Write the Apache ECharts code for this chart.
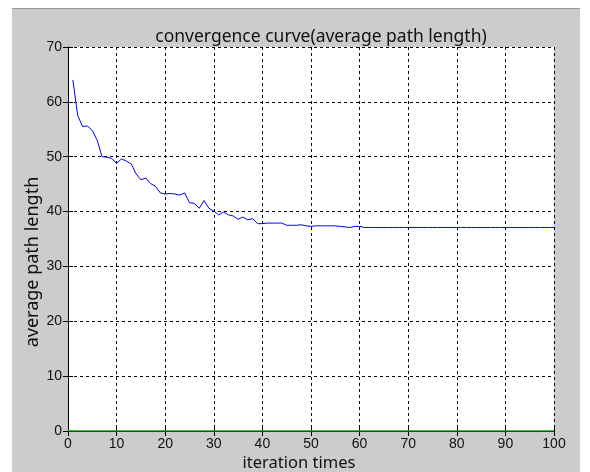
<!DOCTYPE html>
<html>
<head>
<meta charset="utf-8">
<script src="https://cdn.jsdelivr.net/npm/echarts@6/dist/echarts.min.js"></script>
<style>
  html, body { margin: 0; padding: 0; background: #fff; }
  #main { width: 590px; height: 472px; }
</style>
</head>
<body>
<div id="main"></div>
<script>
// average path length per iteration (1..100)
var iterations = [];
for (var k = 1; k <= 100; k++) iterations.push(k);
var avgLength = [
  64.0, 57.5, 55.5, 55.6, 54.8, 53.0, 50.0, 49.9, 49.7, 48.8,
  49.6, 49.2, 48.7, 46.9, 45.8, 46.1, 45.1, 44.6, 43.4, 43.2,
  43.3, 43.2, 43.0, 43.4, 41.6, 41.5, 40.6, 42.0, 40.6, 40.1,
  39.4, 39.9, 39.4, 39.2, 38.6, 39.0, 38.5, 38.7, 37.8, 37.8,
  37.9, 37.9, 37.9, 37.9, 37.5, 37.5, 37.5, 37.6, 37.4, 37.3,
  37.4, 37.4, 37.4, 37.4, 37.4, 37.3, 37.2, 37.1, 37.3, 37.3,
  37.1, 37.1, 37.1, 37.1, 37.1, 37.1, 37.1, 37.1, 37.1, 37.1,
  37.1, 37.1, 37.1, 37.1, 37.1, 37.1, 37.1, 37.1, 37.1, 37.1,
  37.1, 37.1, 37.1, 37.1, 37.1, 37.1, 37.1, 37.1, 37.1, 37.1,
  37.1, 37.1, 37.1, 37.1, 37.1, 37.1, 37.1, 37.1, 37.1, 37.1
];
var baseX = [0, 100];
var baseY = [0, 0];

var lineData = iterations.map(function (it, i) { return [it, avgLength[i]]; });
var baseData = baseX.map(function (x, i) { return [x, baseY[i]]; });

var tickFont = { color: '#111', fontSize: 14, fontFamily: 'Liberation Sans' };
var gridLine = { show: true, lineStyle: { color: '#000', type: [3, 3], width: 1 } };
var labelFont = 'Noto Sans';

var myChart = echarts.init(document.getElementById('main'));
myChart.setOption({
  animation: false,
  backgroundColor: '#cccccc',
  graphic: [
    { type: 'rect', left: 0, top: 0, shape: { width: 590, height: 9 }, style: { fill: '#fff' } },
    { type: 'rect', left: 0, top: 8, shape: { width: 590, height: 1 }, style: { fill: '#999' } },
    { type: 'rect', left: 0, top: 0, shape: { width: 12, height: 472 }, style: { fill: '#fff' } },
    { type: 'rect', left: 580, top: 0, shape: { width: 10, height: 472 }, style: { fill: '#fff' } },
    // axis titles
    { type: 'text', x: 299, y: 463, style: { text: 'iteration times', fontSize: 16.5, fontFamily: labelFont, fill: '#111', align: 'center', verticalAlign: 'middle' } },
    { type: 'text', x: 33, y: 262, rotation: Math.PI / 2, style: { text: 'average path length', fontSize: 18, fontFamily: labelFont, fill: '#111', align: 'center', verticalAlign: 'middle' } }
  ],
  title: {
    text: 'convergence curve(average path length)',
    left: 316, top: 23, textAlign: 'center',
    textStyle: { fontSize: 17.5, fontWeight: 'normal', color: '#111', fontFamily: labelFont }
  },
  grid: { left: 68, right: 36, top: 47, bottom: 41, backgroundColor: '#fff', show: true, borderWidth: 0 },
  xAxis: [{
    type: 'value', min: 0, max: 100, interval: 10,
    axisLine: { show: true, lineStyle: { color: '#000' } },
    axisTick: { show: true, inside: true, length: 5, lineStyle: { color: '#000' } },
    axisLabel: Object.assign({ margin: 6 }, tickFont),
    splitLine: gridLine
  }, {
    type: 'value', min: 0, max: 100, interval: 10, position: 'top',
    axisLine: { show: true, lineStyle: { color: '#000' } },
    axisTick: { show: true, inside: true, length: 5, lineStyle: { color: '#000' } },
    axisLabel: { show: false }, splitLine: { show: false }
  }],
  yAxis: [{
    type: 'value', min: 0, max: 70, interval: 10,
    axisLine: { show: true, lineStyle: { color: '#000' } },
    axisTick: { show: true, inside: true, length: 5, lineStyle: { color: '#000' } },
    axisLabel: Object.assign({ margin: 6 }, tickFont),
    splitLine: gridLine
  }, {
    type: 'value', min: 0, max: 70, interval: 10, position: 'right',
    axisLine: { show: true, lineStyle: { color: '#000' } },
    axisTick: { show: true, inside: true, length: 5, lineStyle: { color: '#000' } },
    axisLabel: { show: false }, splitLine: { show: false }
  }],
  series: [{
    name: 'average path length', type: 'line', data: lineData,
    showSymbol: false, lineStyle: { color: '#0000ff', width: 1 }, z: 3
  }, {
    name: 'baseline', type: 'line', data: baseData,
    showSymbol: false, lineStyle: { color: '#00a000', width: 1.5 }, z: 4
  }]
});
</script>
</body>
</html>
